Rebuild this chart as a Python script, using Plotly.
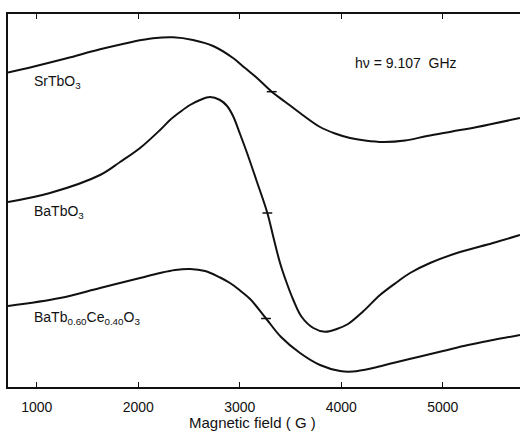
import plotly.graph_objects as go

# Magnetic field (G) and derivative signal (arbitrary units)
sr_field = [717, 964, 1296, 1624, 1949, 2146, 2343, 2540, 2737, 2934, 3052, 3170,
            3315, 3446, 3594, 3791, 3939, 4087, 4234, 4412, 4629, 4845, 5092, 5338, 5761]
sr_signal = [314.5, 320.3, 328.7, 337.7, 345.3, 348.7, 349.7, 347, 341, 329, 319, 309,
             295.3, 285.3, 274, 260, 253.5, 249, 246.5, 245, 246.5, 251, 255.5, 260, 269]

ba_field = [717, 1131, 1624, 1821, 2018, 2215, 2313, 2412, 2510, 2609, 2707, 2806,
            2875, 2934, 3003, 3072, 3170, 3272, 3331, 3397, 3463, 3528, 3611, 3725,
            3840, 3956, 4067, 4215, 4382, 4550, 4678, 4875, 5170, 5495, 5761]
ba_signal = [185, 194, 212, 225, 239, 257, 267, 275, 282, 287, 290, 287,
             281, 271, 253, 234, 205, 174, 150, 124, 104, 87, 70, 59,
             55.3, 58, 63, 75.5, 92, 105, 114, 124, 135, 144, 152]

ce_field = [717, 1230, 1624, 2018, 2215, 2363, 2510, 2658, 2806, 2904, 3003, 3102,
            3259, 3407, 3594, 3791, 3988, 4116, 4313, 4510, 4757, 5003, 5249, 5495, 5761]
ce_signal = [81, 89, 99, 109, 114, 117, 118, 116, 109.5, 104, 96.5, 88,
             68.5, 50, 34, 22, 16, 15.5, 19, 24, 30, 36, 42, 47, 52]

# resonance (g-marker) positions on each curve
mark_field = [3315, 3272, 3259]
mark_signal = [295.3, 174, 68.5]

x_ticks = [1000, 2000, 3000, 4000, 5000]
x_range = [717, 5761]
y_range = [0, 373]

FONT = "Liberation Sans"
BLACK = "#111111"

fig = go.Figure()
for fx, fy in [(sr_field, sr_signal), (ba_field, ba_signal), (ce_field, ce_signal)]:
    fig.add_trace(go.Scatter(x=fx, y=fy, mode="lines",
                             line=dict(color=BLACK, width=2, shape="spline", smoothing=1.0),
                             showlegend=False, hoverinfo="skip"))
fig.add_trace(go.Scatter(x=mark_field, y=mark_signal, mode="markers",
                         marker=dict(symbol="line-ew", size=7,
                                     line=dict(color=BLACK, width=1.5)),
                         showlegend=False, hoverinfo="skip"))

labels = [
    (950, 305, "SrTbO<sub>3</sub>"),
    (950, 175, "BaTbO<sub>3</sub>"),
    (950, 69, "BaTb<sub>0.60</sub>Ce<sub>0.40</sub>O<sub>3</sub>"),
    (4120, 324, "hν = 9.107  GHz"),
]
for lx, ly, txt in labels:
    fig.add_annotation(x=lx, y=ly, text=txt, showarrow=False, xanchor="left",
                       yanchor="middle", font=dict(family=FONT, size=14, color=BLACK))

fig.add_annotation(xref="paper", yref="paper", x=0.477, y=-0.095,
                   text="Magnetic field ( G )", showarrow=False,
                   xanchor="center", yanchor="middle",
                   font=dict(family=FONT, size=15, color=BLACK))

fig.update_layout(
    width=520, height=442,
    margin=dict(l=8, r=0, t=14, b=55),
    paper_bgcolor="white", plot_bgcolor="white",
    xaxis=dict(range=x_range, tickvals=x_ticks, ticktext=[str(v) for v in x_ticks],
               ticks="inside", ticklen=5, tickwidth=1.2, tickcolor=BLACK,
               showline=True, linecolor=BLACK, linewidth=1.5, mirror="ticks",
               showgrid=False, zeroline=False, ticklabelstandoff=6,
               tickfont=dict(family=FONT, size=14, color=BLACK)),
    yaxis=dict(range=y_range, showticklabels=False, ticks="", showline=True,
               linecolor=BLACK, linewidth=1.5, showgrid=False, zeroline=False),
)

fig.write_html("out.html", config={"displayModeBar": False},
               post_script="document.body.style.margin='0px';")
